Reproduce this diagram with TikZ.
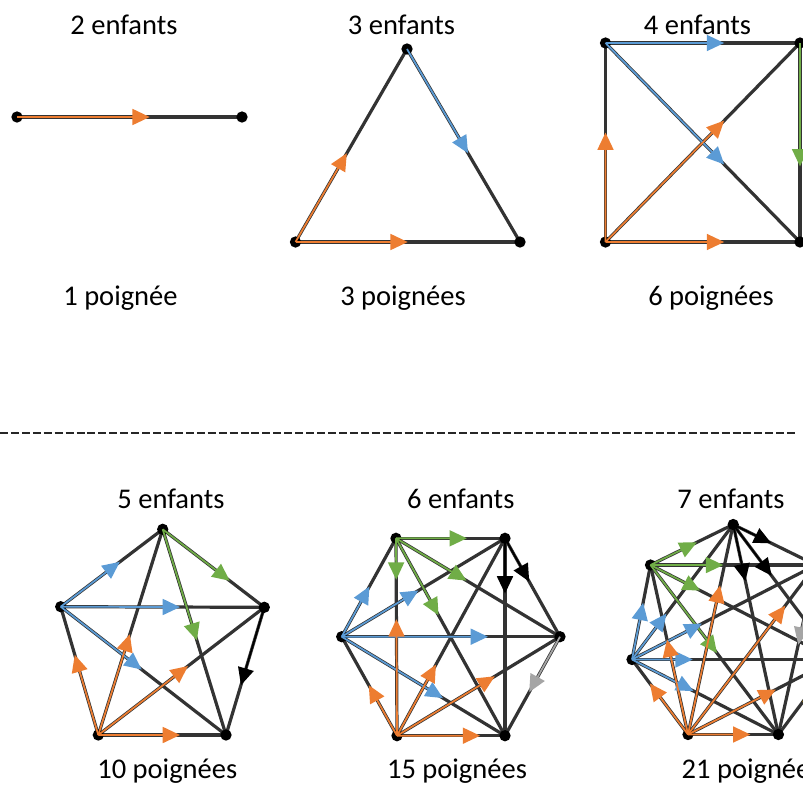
\documentclass[tikz,border=0pt]{standalone}
\usepackage{fontspec}
\setmainfont{Carlito}
\usetikzlibrary{arrows.meta,calc,backgrounds}
\definecolor{cor}{HTML}{ED7D31}
\definecolor{cbl}{HTML}{5B9BD5}
\definecolor{cgr}{HTML}{70AD47}
\definecolor{cgy}{HTML}{A5A5A5}
\definecolor{cye}{HTML}{FFC000}
\tikzset{
 vtx/.style={circle,fill=black,inner sep=0pt,minimum size=8.5pt},
 edge/.style={draw=black!80,line width=2.4pt},
 harr/.style={line width=1.3pt,-{Triangle[length=13pt,width=12pt]}},
 lbl/.style={font=\fontsize{21.4}{25}\selectfont,anchor=base,inner sep=0pt},
 sep/.style={draw=black!85,line width=1.8pt,dash pattern=on 6pt off 2.2pt},
}
\newcommand\hsarrow[4]{\draw[harr,#1] (#2.center) -- ($(#2.center)!#4!(#3.center)$);}
\begin{document}
\begin{tikzpicture}[x=0.75pt,y=-0.75pt]
\useasboundingbox (0,0) rectangle (803,786);
\clip (0,0) rectangle (803,786);

% ---------- labels ----------
\node[lbl] (ta) at (124,34) {2 enfants};
\node[lbl] (tb) at (401.5,34) {3 enfants};
\node[lbl] (tc) at (697.5,34) {4 enfants};
\node[lbl] (ba) at (120.5,305) {1 poignée};
\node[lbl] (bb) at (403,305) {3 poignées};
\node[lbl] (bc) at (711,305) {6 poignées};
\node[lbl] (td) at (171,508) {5 enfants};
\node[lbl] (te) at (460.8,508) {6 enfants};
\node[lbl] (tf) at (731,508) {7 enfants};
\node[lbl] (bd) at (167.3,778) {10 poignées};
\node[lbl] (be) at (457,778) {15 poignées};
\node[lbl] (bf) at (751.6,778) {21 poignées};

% ---------- separator ----------
\coordinate (s1) at (0,433);
\coordinate (s2) at (797,433);
\draw[sep] (s1) -- (s2);

% ---------- vertices ----------
\node[vtx] (a1) at (17,117) {};
\node[vtx] (a2) at (242,117) {};

\node[vtx] (b1) at (407,49) {};
\node[vtx] (b2) at (295.5,242) {};
\node[vtx] (b3) at (520,242) {};

\node[vtx] (c1) at (605.5,43) {};
\node[vtx] (c2) at (800,43) {};
\node[vtx] (c3) at (800,242) {};
\node[vtx] (c4) at (605.5,242) {};

\node[vtx] (d1) at (162.7,529.3) {};
\node[vtx] (d2) at (60.7,606.7) {};
\node[vtx] (d3) at (98.3,735) {};
\node[vtx] (d4) at (226,735) {};
\node[vtx] (d5) at (264.3,607.3) {};

\node[vtx] (e1) at (396,538.3) {};
\node[vtx] (e2) at (505,538.3) {};
\node[vtx] (e3) at (560,636.7) {};
\node[vtx] (e4) at (505,735.7) {};
\node[vtx] (e5) at (397,735.7) {};
\node[vtx] (e6) at (341.7,636.7) {};

\node[vtx] (f1) at (733.2,524.5) {};
\node[vtx] (f2) at (650.5,565) {};
\node[vtx] (f3) at (632,659.5) {};
\node[vtx] (f4) at (688,734.5) {};
\node[vtx] (f5) at (778.4,734.5) {};
\node[vtx] (f6) at (834.4,659.5) {};
\node[vtx] (f7) at (815.9,565) {};

% ---------- black edges (background) ----------
\begin{pgfonlayer}{background}
\draw[edge] (a1.center) -- (a2.center);
\foreach \u/\v in {b1/b2,b1/b3,b2/b3} \draw[edge] (\u.center) -- (\v.center);
\foreach \u/\v in {c1/c2,c1/c3,c1/c4,c2/c3,c2/c4,c3/c4} \draw[edge] (\u.center) -- (\v.center);
\foreach \i [evaluate=\i as \k using int(\i+1)] in {1,...,4}
  \foreach \j in {\k,...,5} \draw[edge] (d\i.center) -- (d\j.center);
\foreach \i [evaluate=\i as \k using int(\i+1)] in {1,...,5}
  \foreach \j in {\k,...,6} \draw[edge] (e\i.center) -- (e\j.center);
\foreach \i [evaluate=\i as \k using int(\i+1)] in {1,...,6}
  \foreach \j in {\k,...,7} \draw[edge] (f\i.center) -- (f\j.center);
\end{pgfonlayer}

% ---------- coloured arrows ----------
\hsarrow{cor}{a1}{a2}{0.59}

\hsarrow{cor}{b2}{b1}{0.46}
\hsarrow{cor}{b2}{b3}{0.5}
\hsarrow{cbl}{b1}{b3}{0.54}

\hsarrow{cbl}{c1}{c2}{0.61}
\hsarrow{cbl}{c1}{c3}{0.61}
\hsarrow{cgr}{c2}{c3}{0.62}
\hsarrow{cor}{c4}{c1}{0.55}
\hsarrow{cor}{c4}{c2}{0.61}
\hsarrow{cor}{c4}{c3}{0.61}

\hsarrow{cbl}{d2}{d1}{0.58}
\hsarrow{cbl}{d2}{d5}{0.586}
\hsarrow{cbl}{d2}{d4}{0.49}
\hsarrow{cgr}{d1}{d5}{0.66}
\hsarrow{cgr}{d1}{d4}{0.54}
\hsarrow{black}{d5}{d4}{0.61}
\hsarrow{cor}{d3}{d2}{0.625}
\hsarrow{cor}{d3}{d1}{0.49}
\hsarrow{cor}{d3}{d5}{0.54}
\hsarrow{cor}{d3}{d4}{0.64}

\hsarrow{cgr}{e1}{e2}{0.65}
\hsarrow{cgr}{e1}{e5}{0.21}
\hsarrow{cgr}{e1}{e3}{0.43}
\hsarrow{cgr}{e1}{e4}{0.39}
\hsarrow{black}{e2}{e3}{0.44}
\hsarrow{black}{e2}{e4}{0.28}
\hsarrow{cgy}{e3}{e4}{0.56}
\hsarrow{cbl}{e6}{e1}{0.51}
\hsarrow{cbl}{e6}{e2}{0.47}
\hsarrow{cbl}{e6}{e3}{0.67}
\hsarrow{cbl}{e6}{e4}{0.62}
\hsarrow{cor}{e5}{e6}{0.51}
\hsarrow{cor}{e5}{e1}{0.59}
\hsarrow{cor}{e5}{e2}{0.36}
\hsarrow{cor}{e5}{e3}{0.6}
\hsarrow{cor}{e5}{e4}{0.77}

\hsarrow{cgr}{f2}{f1}{0.56}
\hsarrow{cgr}{f2}{f7}{0.44}
\hsarrow{cgr}{f2}{f6}{0.27}
\hsarrow{cgr}{f2}{f5}{0.52}
\hsarrow{cbl}{f3}{f2}{0.6}
\hsarrow{cbl}{f3}{f1}{0.34}
\hsarrow{cbl}{f3}{f7}{0.38}
\hsarrow{cbl}{f3}{f6}{0.3}
\hsarrow{cbl}{f3}{f5}{0.42}
\hsarrow{cor}{f4}{f3}{0.68}
\hsarrow{cor}{f4}{f2}{0.56}
\hsarrow{cor}{f4}{f1}{0.71}
\hsarrow{cor}{f4}{f7}{0.76}
\hsarrow{cor}{f4}{f6}{0.6}
\hsarrow{cor}{f4}{f5}{0.69}
\hsarrow{black}{f1}{f7}{0.46}
\hsarrow{black}{f1}{f5}{0.27}
\hsarrow{black}{f1}{f6}{0.38}
\hsarrow{cgy}{f7}{f5}{0.47}
\hsarrow{cye}{f6}{f5}{0.57}
\end{tikzpicture}
\end{document}
